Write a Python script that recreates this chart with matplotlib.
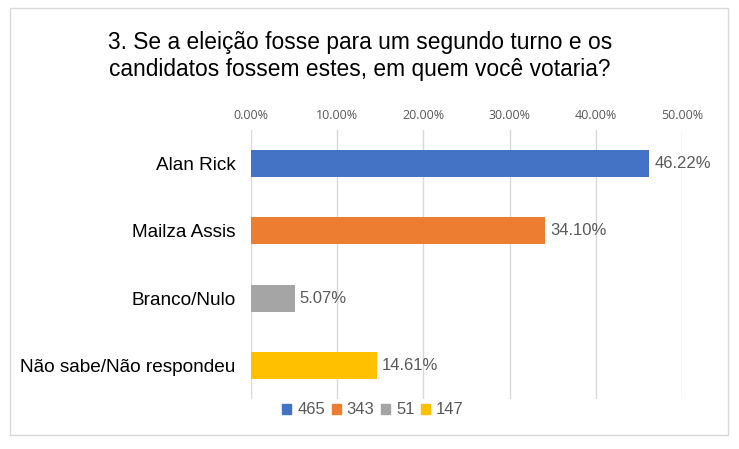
import matplotlib

matplotlib.use("Agg")
import matplotlib.pyplot as plt
from matplotlib.patches import Rectangle

# dados do gráfico
categorias = ["Alan Rick", "Mailza Assis", "Branco/Nulo", "Não sabe/Não respondeu"]
percentuais = [46.22, 34.10, 5.07, 14.61]
votos = [465, 343, 51, 147]
cores = ["#4472C4", "#ED7D31", "#A5A5A5", "#FFC000"]
ticks = [0, 10, 20, 30, 40, 50]

plt.rcParams["font.family"] = ["Liberation Sans", "DejaVu Sans"]

fig = plt.figure(figsize=(7.39, 4.49), dpi=100)
ax = fig.add_axes([251 / 739, 1 - 399 / 449, 431 / 739, 269 / 449])

# moldura do gráfico
fig.patches.append(
    Rectangle((10 / 739, 1 - 435 / 449), 718 / 739, 427 / 449,
              transform=fig.transFigure, fill=False, edgecolor="#D9D9D9", lw=1)
)

pos = list(range(len(categorias)))
barras = ax.barh(pos, percentuais, height=0.40, color=cores, zorder=3)
for b, v in zip(barras, percentuais):
    ax.text(b.get_width() + 0.6, b.get_y() + b.get_height() / 2, f"{v:.2f}%",
            va="center", ha="left", fontsize=12, color="#595959")

ax.set_ylim(len(categorias) - 0.5, -0.5)
ax.set_xlim(0, 50)
ax.set_yticks(pos)
ax.set_yticklabels(categorias, fontsize=13.7, color="black")
ax.set_xticks(ticks)
ax.set_xticklabels([f"{t:.2f}%" for t in ticks], fontsize=9, color="#595959",
                   family=["Open Sans", "DejaVu Sans"])
ax.xaxis.tick_top()
ax.tick_params(axis="both", length=0)
ax.tick_params(axis="x", pad=6)
ax.tick_params(axis="y", pad=11)
ax.grid(axis="x", color="#D9D9D9", lw=1, zorder=0)
for s in ax.spines.values():
    s.set_visible(False)

fig.text(360 / 739, 1 - 56 / 449,
         "3. Se a eleição fosse para um segundo turno e os\ncandidatos fossem estes, em quem você votaria?",
         ha="center", va="center", fontsize=16.4, linespacing=1.2)

handles = [Rectangle((0, 0), 1, 1, color=c) for c in cores]
fig.legend(handles, [str(v) for v in votos], loc="center", ncol=4,
           bbox_to_anchor=(373 / 739, 1 - 410 / 449), frameon=False,
           fontsize=12, handlelength=0.55, handleheight=0.55, handletextpad=0.35,
           columnspacing=0.4, labelcolor="#595959")

fig.savefig("out.png", dpi=100)
plt.close(fig)
